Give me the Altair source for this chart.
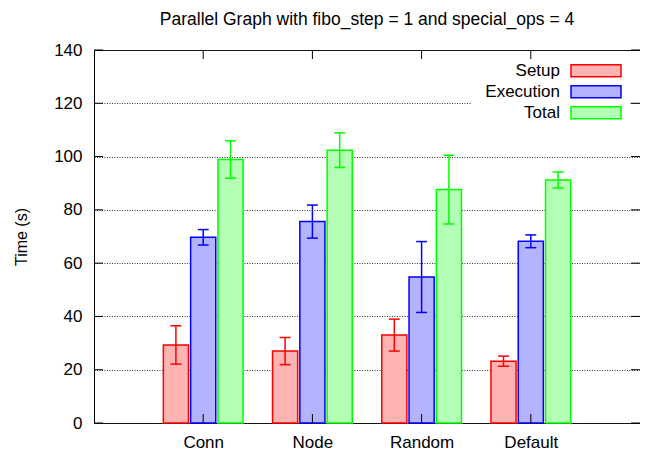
import altair as alt
import pandas as pd

categories = ["Conn", "Node", "Random", "Default"]
series = ["Setup", "Execution", "Total"]
setup_mean = [29.3, 27.0, 33.0, 23.2]
setup_err = [7.2, 5.1, 6.0, 1.9]
exec_mean = [69.7, 75.6, 54.8, 68.2]
exec_err = [2.9, 6.2, 13.3, 2.4]
total_mean = [98.9, 102.4, 87.6, 91.2]
total_err = [7.0, 6.5, 12.9, 3.0]
y_ticks = [0, 20, 40, 60, 80, 100, 120, 140]
stroke_colors = ["#ff0000", "#0000ff", "#00ff00"]
fill_colors = ["#ffb3b3", "#b3b3ff", "#b3ffb3"]

FONT = "Liberation Sans"
W, H = 546, 373
BAR_HALF = 0.115
CAP_HALF = 0.05
OFFSET = 0.25

means = [setup_mean, exec_mean, total_mean]
errs = [setup_err, exec_err, total_err]
rows = []
for ci, cat in enumerate(categories):
    for si, s in enumerate(series):
        pos = ci + (si - 1) * OFFSET
        m = means[si][ci]
        e = errs[si][ci]
        rows.append({
            "category": cat, "series": s, "pos": pos,
            "x0": pos - BAR_HALF, "x1": pos + BAR_HALF,
            "c0": pos - CAP_HALF, "c1": pos + CAP_HALF,
            "mean": m, "zero": 0, "lo": m - e, "hi": m + e,
        })
df = pd.DataFrame(rows)

label_expr = "[" + ",".join("'%s'" % c for c in categories) + "][datum.value]"

xscale = alt.Scale(domain=[-1, 4], nice=False, zero=False)
yscale = alt.Scale(domain=[0, 140], nice=False, zero=True)
stroke_scale = alt.Scale(domain=series, range=stroke_colors)
fill_scale = alt.Scale(domain=series, range=fill_colors)

x_axis = alt.Axis(values=[0, 1, 2, 3], labelExpr=label_expr, grid=False, ticks=False,
                  domain=False, labelPadding=11, labelFontSize=17, labelFont=FONT,
                  labelColor="black", title=None)
y_axis = alt.Axis(values=y_ticks, grid=True, gridDash=[1, 1.5], gridColor="#333",
                  gridWidth=1, ticks=False, domain=False, labelPadding=12,
                  labelFontSize=17, labelFont=FONT, labelColor="black",
                  title="Time (s)", titleFont=FONT, titleFontSize=16,
                  titleFontWeight="normal", titleColor="black", titlePadding=24)


def X(field):
    return alt.X(field, type="quantitative", scale=xscale, axis=x_axis)


def Y(field):
    return alt.Y(field, type="quantitative", scale=yscale, axis=y_axis)


bars = alt.Chart(df).mark_rect(strokeWidth=1.5).encode(
    x=X("x0"), x2="x1:Q",
    y=Y("mean"), y2="zero:Q",
    fill=alt.Fill("series:N", scale=fill_scale, legend=None),
    stroke=alt.Stroke("series:N", scale=stroke_scale, legend=None),
)

err_line = alt.Chart(df).mark_rule(strokeWidth=1.5).encode(
    x=X("pos"), y=Y("lo"), y2="hi:Q",
    color=alt.Color("series:N", scale=stroke_scale, legend=None),
)
cap_hi = alt.Chart(df).mark_rule(strokeWidth=1.5).encode(
    x=X("c0"), x2="c1:Q", y=Y("hi"),
    color=alt.Color("series:N", scale=stroke_scale, legend=None),
)
cap_lo = alt.Chart(df).mark_rule(strokeWidth=1.5).encode(
    x=X("c0"), x2="c1:Q", y=Y("lo"),
    color=alt.Color("series:N", scale=stroke_scale, legend=None),
)

# inward ticks (gnuplot style)
ytick_df = pd.DataFrame({"v": y_ticks})
xtick_df = pd.DataFrame({"c": list(range(len(categories)))})
ytick_left = alt.Chart(ytick_df).mark_rule(color="black", strokeWidth=1).encode(
    y=Y("v"), x=alt.value(0), x2=alt.value(9))
ytick_right = alt.Chart(ytick_df).mark_rule(color="black", strokeWidth=1).encode(
    y=Y("v"), x=alt.value(W - 9), x2=alt.value(W))
xtick_bot = alt.Chart(xtick_df).mark_rule(color="black", strokeWidth=1).encode(
    x=X("c"), y=alt.value(H), y2=alt.value(H - 9))
xtick_top = alt.Chart(xtick_df).mark_rule(color="black", strokeWidth=1).encode(
    x=X("c"), y=alt.value(0), y2=alt.value(9))

# key box (gnuplot-style legend inside plot)
key_bg = alt.Chart(pd.DataFrame({"k": [0]})).mark_rect(fill="white", strokeWidth=0).encode(
    x=alt.value(378), x2=alt.value(536), y=alt.value(10), y2=alt.value(72))
layers = [bars, err_line, cap_hi, cap_lo, ytick_left, ytick_right, xtick_bot, xtick_top, key_bg]
for i, s in enumerate(series):
    ky = 20.7 + 21 * i
    sdf = pd.DataFrame({"series": [s]})
    layers.append(alt.Chart(sdf).mark_text(align="right", baseline="middle", fontSize=17,
                                           font=FONT, color="black").encode(
        x=alt.value(466), y=alt.value(ky), text="series:N"))
    layers.append(alt.Chart(sdf).mark_rect(fill=fill_colors[i], stroke=stroke_colors[i],
                                           strokeWidth=1.5).encode(
        x=alt.value(477), x2=alt.value(527), y=alt.value(ky - 6), y2=alt.value(ky + 6)))

chart = alt.layer(*layers).properties(
    width=W, height=H,
    title=alt.TitleParams("Parallel Graph with fibo_step = 1 and special_ops = 4",
                          font=FONT, fontSize=17.5, fontWeight="normal", color="black",
                          anchor="middle", frame="group", offset=13),
    autosize=alt.AutoSizeParams(type="none"),
    padding={"left": 86, "top": 42, "right": 0, "bottom": 28},
    background="white",
).configure_view(stroke="black", strokeWidth=1)

chart.save("out.html", embed_options={"renderer": "svg", "actions": False})
